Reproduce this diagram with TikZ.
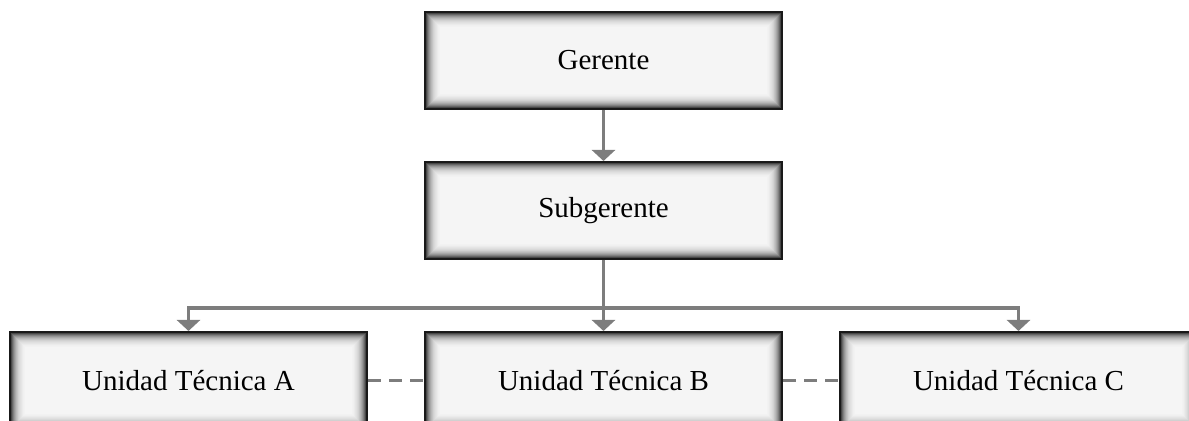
\documentclass[tikz,border=0pt]{standalone}
\usepackage{fontspec}
\setmainfont{Liberation Serif}
\usetikzlibrary{arrows.meta}
\definecolor{conn}{RGB}{125,125,125}
\definecolor{boxfill}{RGB}{245,245,245}
\tikzset{
  orgbox/.style={
    rectangle, draw=black!90, line width=1pt, fill=boxfill,
    minimum width=178.5pt, minimum height=48.5pt, inner sep=0pt,
    font=\fontsize{14.5}{17}\selectfont,
    path picture={
      \foreach \d/\p in {0.25/85,0.75/72,1.25/60,1.75/50,2.25/41,2.75/34,3.25/28,3.75/23,4.25/18,4.75/15,5.25/12,5.75/10,6.25/8,6.75/6,7.25/5}{
        \draw[black!\p, line width=0.55pt]
          ([shift={(\d pt,\d pt)}]path picture bounding box.south west) rectangle
          ([shift={(-\d pt,-\d pt)}]path picture bounding box.north east);
      }
    }
  },
  link/.style={draw=conn, line width=1.9pt, -{Triangle[width=11.5pt,length=5.5pt]}},
  dlink/.style={draw=conn, line width=1.75pt, dash pattern=on 6.5pt off 4pt}
}
\begin{document}
\begin{tikzpicture}[x=0.5pt,y=-0.5pt]
\useasboundingbox (0,0) rectangle (1189,421);
\clip (0,0) rectangle (1189,421);
\node[orgbox] (ger) at (603.5,60.5) {Gerente};
\node[orgbox] (sub) at (603.5,210.5) {Subgerente};
\node[orgbox] (ua) at (188.5,380.5) {Unidad Técnica A};
\node[orgbox] (ub) at (603.5,380.5) {Unidad Técnica B};
\node[orgbox] (uc) at (1018.5,380.5) {Unidad Técnica C};
\coordinate (j) at (603.5,308);
\draw[link] (ger.south) -- (sub.north);
\draw[link] (sub.south) -- (ub.north);
\draw[link] (j) -| (ua.north);
\draw[link] (j) -| (uc.north);
\draw[dlink] (ua.east) -- (ub.west);
\draw[dlink] (ub.east) -- (uc.west);
\end{tikzpicture}
\end{document}
